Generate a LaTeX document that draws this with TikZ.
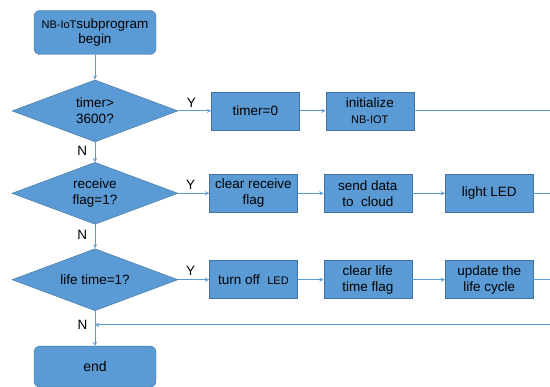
\documentclass[tikz,border=0pt]{standalone}
\usepackage{fontspec}
\setmainfont{Liberation Sans}
\usetikzlibrary{calc, shapes.geometric, arrows, positioning}
\definecolor{boxblue}{HTML}{5B9BD5}
\definecolor{boxedge}{HTML}{41719C}
\definecolor{flowline}{HTML}{5B9BD5}

\begin{document}
\begin{tikzpicture}[x=1pt, y=1pt, >=stealth]
    % Style definitions
    \tikzset{termbox/.style={draw=boxedge, fill=boxblue, rectangle, rounded corners=6pt, minimum width=122pt, minimum height=44pt, align=center, font=\fontsize{13.5}{15}\selectfont}}
    \tikzset{decide/.style={draw=boxedge, fill=boxblue, diamond, aspect=2.7, minimum width=166pt, minimum height=62pt, inner sep=0pt, align=center, font=\fontsize{13.5}{16}\selectfont}}
    \tikzset{procbox/.style={draw=boxedge, fill=boxblue, rectangle, minimum width=88pt, minimum height=38pt, align=center, font=\fontsize{13.5}{16}\selectfont}}
    \tikzset{arrow/.style={draw=flowline, line width=0.9pt, ->}}
    \tikzset{flow/.style={draw=flowline, line width=0.9pt}}
    \tikzset{yn/.style={font=\fontsize{13.5}{15}\selectfont}}
    \useasboundingbox (0,0) rectangle (550,-387);

    % Main column
    \node [termbox] (start) at (95,-32.5) {{\fontsize{11}{13}\selectfont NB-IoT}subprogram\\begin};
    \node [decide, below=25pt of start] (timer) {timer>\\3600?};
    \node [decide, below=20pt of timer] (recv) {receive\\flag=1?};
    \node [decide, below=24pt of recv] (life) {life time=1?};
    \node [termbox, minimum height=41pt, font=\fontsize{14}{16}\selectfont, below=35pt of life] (stop) {end};

    % Row 1
    \node [procbox, right=33pt of timer] (reset) {timer=0};
    \node [procbox, right=26pt of reset] (init) {initialize\\{\fontsize{11}{13}\selectfont NB-IOT}};

    % Row 2
    \node [procbox, right=31pt of recv] (clear) {clear receive\\flag};
    \node [procbox, right=26pt of clear] (send) {send data\\to~ cloud};
    \node [procbox, right=33pt of send] (led) {light LED};

    % Row 3
    \node [procbox, right=31pt of life] (ledoff) {turn off~ {\fontsize{11}{13}\selectfont LED}};
    \node [procbox, right=26pt of ledoff] (clrlife) {clear life\\time flag};
    \node [procbox, right=33pt of clrlife] (update) {update the\\life cycle};

    % Helper coordinates
    \coordinate (edge) at (550,0);
    \coordinate (join) at ($(life.south)!0.4!(stop.north)$);

    % Arrows
    \draw [arrow] (start) -- (timer);
    \draw [arrow] (timer) -- node[yn, left=4pt, pos=0.45] {N} (recv);
    \draw [arrow] (recv) -- node[yn, left=4pt, pos=0.45] {N} (life);
    \draw [arrow] (life) -- (stop);
    \node [yn, left=4pt] at (join) {N};

    \draw [arrow] (timer) -- node[yn, above, pos=0.4] {Y} (reset);
    \draw [arrow] (reset) -- (init);
    \draw [flow] (init) -- (init.east -| edge);

    \draw [arrow] (recv) -- node[yn, above, pos=0.4] {Y} (clear);
    \draw [arrow] (clear) -- (send);
    \draw [arrow] (send) -- (led);
    \draw [flow] (led) -- (led.east -| edge);

    \draw [arrow] (life) -- node[yn, above, pos=0.4] {Y} (ledoff);
    \draw [arrow] (ledoff) -- (clrlife);
    \draw [arrow] (clrlife) -- (update);
    \draw [flow] (update) -- (update.east -| edge);

    \draw [arrow] (edge |- join) -- (join);
\end{tikzpicture}
\end{document}
